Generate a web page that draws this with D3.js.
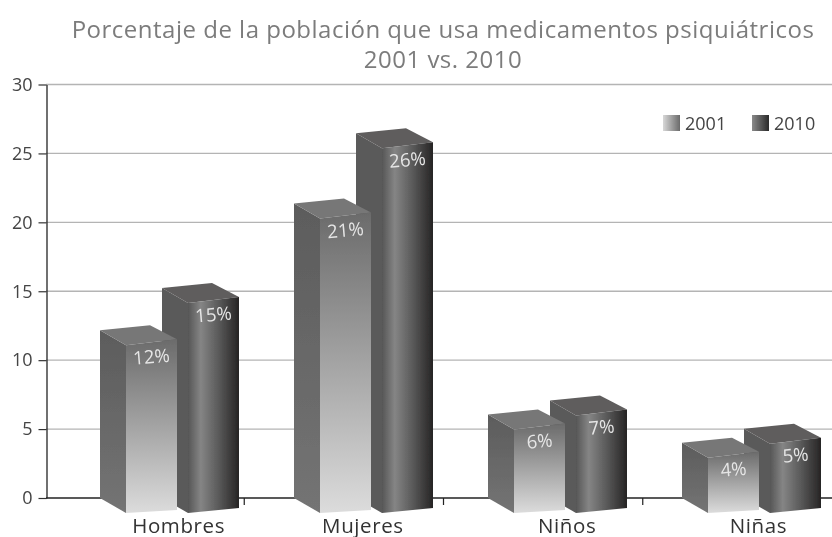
<!DOCTYPE html>
<html>
<head>
<meta charset="utf-8">
<script src="https://cdn.jsdelivr.net/npm/d3@7"></script>
<style>
  html, body { margin: 0; padding: 0; background: #fff; }
  text { font-family: "Open Sans", "Noto Sans", sans-serif; }
</style>
</head>
<body>
<div id="chart"></div>
<script>
const categories = ["Hombres", "Mujeres", "Niños", "Niñas"];
const years = ["2001", "2010"];
const values2001 = [12, 21, 6, 4];
const values2010 = [15, 26, 7, 5];
const yTicks = [0, 5, 10, 15, 20, 25, 30];
const titleLines = [
  "Porcentaje de la población que usa medicamentos psiquiátricos",
  "2001 vs. 2010"
];

const width = 832, height = 537;
const svgRoot = d3.select("#chart").append("svg")
  .attr("width", width).attr("height", height)
  .style("display", "block");

const defs = svgRoot.append("defs");
defs.append("filter").attr("id", "soft")
  .attr("filterUnits", "userSpaceOnUse")
  .attr("x", 0).attr("y", 0).attr("width", width).attr("height", height)
  .append("feGaussianBlur").attr("stdDeviation", 0.45);

// everything goes in one softened group, the source image is a bit blurry
const svg = svgRoot.append("g").attr("filter", "url(#soft)");

function gradient(id, x2, y2, stops) {
  const g = defs.append("linearGradient").attr("id", id)
    .attr("x1", 0).attr("y1", 0).attr("x2", x2).attr("y2", y2);
  stops.forEach(s => g.append("stop").attr("offset", s[0]).attr("stop-color", s[1]));
}
gradient("front2001", 0, 1, [[0, "#6b6b6b"], [1, "#dcdcdc"]]);
gradient("front2010", 1, 0, [[0, "#565656"], [0.25, "#858585"], [0.6, "#5a5a5a"], [1, "#262424"]]);
gradient("side2001", 0, 1, [[0, "#5c5c5c"], [1, "#747474"]]);
gradient("legend2001", 1, 0, [[0, "#d8d8d8"], [1, "#6a6a6a"]]);
gradient("legend2010", 1, 0, [[0, "#8a8a8a"], [1, "#2a2a2a"]]);

// axis scale, and the slightly steeper scale of the 3D back wall
const y = d3.scaleLinear().domain([0, 30]).range([498, 84.5]);
const yBar = d3.scaleLinear().domain([0, 30]).range([499, 77]);
const x = d3.scaleBand().domain(categories).range([3, 779]);
const xTick = d3.scaleBand().domain(categories).range([45, 842]);
const series = d3.scalePoint().domain(years).range([97, 159]);

const depthX = 26, depthY = 15, faceW = 51, rise = 6;
const labelNudge = [34, 19, 24, 16];

// gridlines
svg.append("g").selectAll("line")
  .data(yTicks.slice(1))
  .join("line")
  .attr("x1", 46).attr("x2", width)
  .attr("y1", d => y(d)).attr("y2", d => y(d))
  .attr("stroke", "#b4b4b4").attr("stroke-width", 1.4);

// y axis
const yAxis = svg.append("g")
  .attr("transform", "translate(46.5,0)")
  .call(d3.axisLeft(y).tickValues(yTicks).tickSize(8).tickSizeOuter(0).tickPadding(6));
yAxis.select(".domain").attr("stroke", "#333").attr("stroke-width", 1.4);
yAxis.selectAll("line").attr("stroke", "#333").attr("stroke-width", 1.2);
yAxis.selectAll("text").attr("font-size", 18).attr("fill", "#444");

// x axis, ticks sit between the categories
const xAxis = svg.append("g");
xAxis.append("line")
  .attr("x1", 46).attr("x2", width)
  .attr("y1", 498).attr("y2", 498)
  .attr("stroke", "#222").attr("stroke-width", 1.6);
xAxis.selectAll(".xtick")
  .data(categories.slice(1))
  .join("line")
  .attr("class", "xtick")
  .attr("x1", d => xTick(d)).attr("x2", d => xTick(d))
  .attr("y1", 498).attr("y2", 505)
  .attr("stroke", "#222").attr("stroke-width", 1.2);

// bars, 2010 goes first because 2001 stands in front of it
const bars = [];
categories.forEach((c, i) => {
  bars.push({ cat: c, year: "2010", value: values2010[i] });
  bars.push({ cat: c, year: "2001", value: values2001[i] });
});

const bar = svg.append("g").selectAll("g")
  .data(bars)
  .join("g")
  .attr("transform", d => `translate(${x(d.cat) + series(d.year)},0)`);

const pts = a => a.map(p => p.join(",")).join(" ");

// left side
bar.append("polygon")
  .attr("points", d => {
    const t = yBar(d.value);
    return pts([[0, t], [depthX, t + depthY], [depthX, y(0) + depthY], [0, y(0)]]);
  })
  .attr("fill", d => d.year === "2001" ? "url(#side2001)" : "#5a5a5a");

// top
bar.append("polygon")
  .attr("points", d => {
    const t = yBar(d.value);
    return pts([[0, t], [depthX, t + depthY], [depthX + faceW, t + depthY - rise],
      [depthX + faceW - 27, t - rise + 1]]);
  })
  .attr("fill", d => d.year === "2001" ? "#777" : "#5f5d5d");

// front
bar.append("polygon")
  .attr("points", d => {
    const t = yBar(d.value);
    return pts([[depthX, t + depthY], [depthX + faceW, t + depthY - rise],
      [depthX + faceW, y(0) + depthY - (d.year === "2001" ? 3 : 5)], [depthX, y(0) + depthY]]);
  })
  .attr("fill", d => `url(#front${d.year})`);

// value labels
bar.append("text")
  .attr("x", depthX + faceW / 2)
  .attr("y", d => yBar(d.value) + depthY + 18)
  .attr("text-anchor", "middle")
  .attr("font-size", 18.5)
  .attr("fill", "#e6e6e6")
  .attr("transform", d => `rotate(-5 ${depthX + faceW / 2} ${yBar(d.value) + depthY + 12})`)
  .text(d => d.value + "%");

// category labels
svg.append("g").selectAll("text")
  .data(categories)
  .join("text")
  .attr("x", (d, i) => xTick(d) + xTick.bandwidth() / 2 + labelNudge[i])
  .attr("y", 532.5)
  .attr("text-anchor", "middle")
  .attr("font-size", 20.5)
  .attr("letter-spacing", 0.6)
  .attr("fill", "#333")
  .text(d => d);

// title
svg.append("g").selectAll("text")
  .data(titleLines)
  .join("text")
  .attr("x", 443)
  .attr("y", (d, i) => 38 + i * 30)
  .attr("text-anchor", "middle")
  .attr("font-size", 24)
  .attr("letter-spacing", 0.5)
  .attr("fill", "#7c7c7c")
  .text(d => d);

// legend
const legend = svg.append("g").selectAll("g")
  .data(years)
  .join("g")
  .attr("transform", (d, i) => `translate(${663 + i * 89},115)`);
legend.append("rect")
  .attr("width", 17).attr("height", 16)
  .attr("fill", d => `url(#legend${d})`);
legend.append("text")
  .attr("x", 22).attr("y", 15)
  .attr("font-size", 18)
  .attr("fill", "#444")
  .text(d => d);
</script>
</body>
</html>
